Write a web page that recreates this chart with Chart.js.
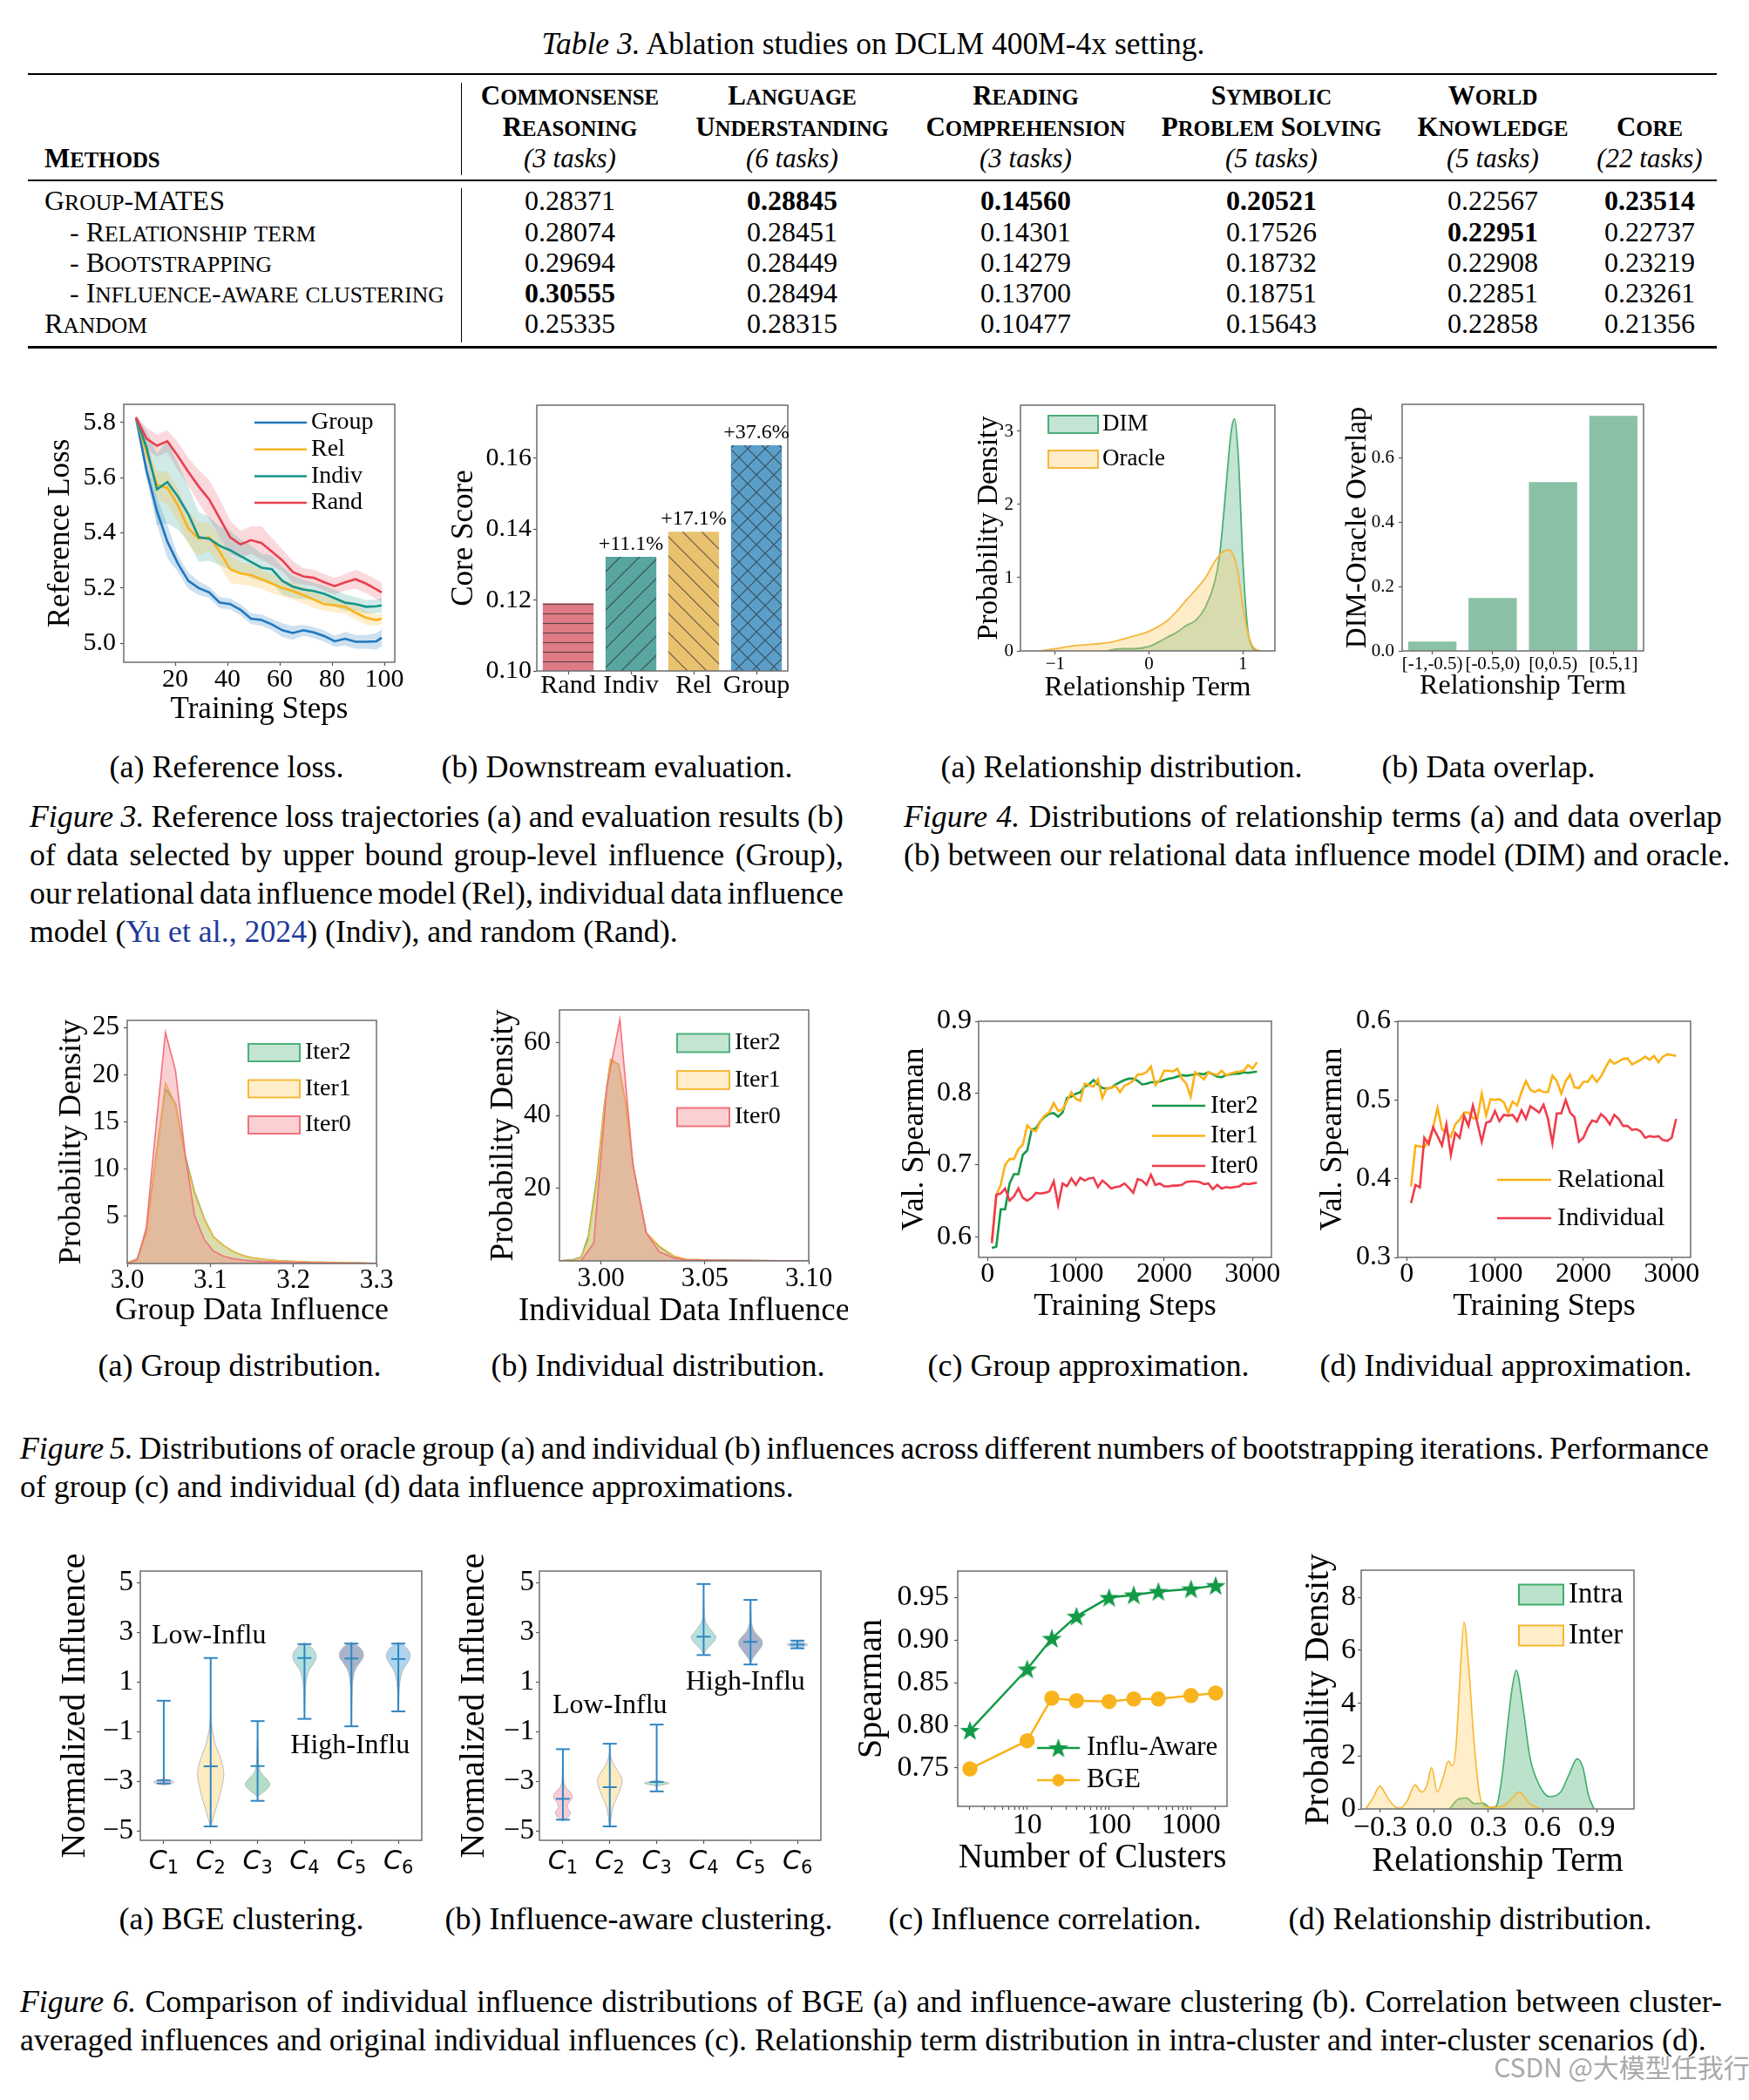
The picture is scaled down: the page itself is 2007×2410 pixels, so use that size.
<!DOCTYPE html>
<html>
<head>
<meta charset="utf-8">
<title>Group-MATES ablations</title>
<script src="https://cdn.jsdelivr.net/npm/chart.js@4.4.1/dist/chart.umd.min.js"></script>
<style>
  html, body { margin: 0; padding: 0; background: #fff; }
  body { position: relative; width: 2007px; height: 2410px; overflow: hidden;
         font-family: 'Liberation Serif', 'Times New Roman', serif; color: #000; }
  .t { position: absolute; white-space: nowrap; line-height: 1; }
  .rule { position: absolute; background: #000; }
  .cap { position: absolute; white-space: nowrap; font-size: 35.8px; line-height: 44px; }
  .cite { color: #1f3b9a; }
</style>
</head>
<body>
<script>
// ---------- Table 3 ----------
const tableGroups = [
  ['Commonsense', 'Reasoning', '(3 tasks)'],
  ['Language', 'Understanding', '(6 tasks)'],
  ['Reading', 'Comprehension', '(3 tasks)'],
  ['Symbolic', 'Problem Solving', '(5 tasks)'],
  ['World', 'Knowledge', '(5 tasks)'],
  ['', 'Core', '(22 tasks)']
];
const tableMethods = ['Group-MATES', '- Relationship term', '- Bootstrapping', '- Influence-aware clustering', 'Random'];
const tableValues = [
  [0.28371, 0.28845, 0.14560, 0.20521, 0.22567, 0.23514],
  [0.28074, 0.28451, 0.14301, 0.17526, 0.22951, 0.22737],
  [0.29694, 0.28449, 0.14279, 0.18732, 0.22908, 0.23219],
  [0.30555, 0.28494, 0.13700, 0.18751, 0.22851, 0.23261],
  [0.25335, 0.28315, 0.10477, 0.15643, 0.22858, 0.21356]
];

// ---------- Figure 3a: reference loss ----------
const steps3a = [5, 9, 13, 17, 21, 25, 29, 33, 37, 41, 45, 49, 53, 57, 61, 65, 69, 73, 77, 81, 85, 89, 93, 97, 99];
const lossGroup = [5.816, 5.626, 5.479, 5.368, 5.289, 5.226, 5.200, 5.184, 5.147, 5.142, 5.121, 5.089, 5.084, 5.068, 5.047, 5.037, 5.047, 5.039, 5.026, 5.007, 5.016, 5.005, 5.005, 5.007, 5.020];
const lossRel = [5.818, 5.69, 5.574, 5.563, 5.5, 5.416, 5.379, 5.384, 5.332, 5.268, 5.253, 5.247, 5.232, 5.216, 5.2, 5.189, 5.174, 5.158, 5.142, 5.137, 5.132, 5.111, 5.092, 5.084, 5.089];
const lossIndiv = [5.818, 5.71, 5.558, 5.584, 5.532, 5.468, 5.384, 5.379, 5.353, 5.337, 5.316, 5.295, 5.274, 5.268, 5.226, 5.205, 5.195, 5.189, 5.179, 5.163, 5.147, 5.142, 5.132, 5.134, 5.137];
const lossRand = [5.818, 5.742, 5.716, 5.732, 5.679, 5.621, 5.568, 5.521, 5.453, 5.384, 5.358, 5.374, 5.363, 5.332, 5.3, 5.258, 5.242, 5.237, 5.221, 5.207, 5.221, 5.232, 5.216, 5.195, 5.184];
// half-width of the shaded bands
const bandGroup = [0.005, 0.03, 0.05, 0.06, 0.03, 0.03, 0.025, 0.02, 0.02, 0.02, 0.02, 0.02, 0.02, 0.02, 0.025, 0.025, 0.02, 0.02, 0.02, 0.02, 0.025, 0.025, 0.025, 0.03, 0.03];
const bandRel = [0.005, 0.03, 0.05, 0.06, 0.06, 0.06, 0.06, 0.05, 0.05, 0.05, 0.04, 0.04, 0.035, 0.035, 0.03, 0.03, 0.03, 0.03, 0.025, 0.025, 0.025, 0.025, 0.025, 0.02, 0.02];
const bandIndiv = [0.005, 0.06, 0.13, 0.15, 0.12, 0.1, 0.09, 0.08, 0.07, 0.07, 0.06, 0.06, 0.05, 0.05, 0.05, 0.04, 0.035, 0.03, 0.03, 0.03, 0.03, 0.025, 0.025, 0.025, 0.025];
const bandRand = [0.005, 0.04, 0.04, 0.04, 0.05, 0.05, 0.06, 0.07, 0.07, 0.06, 0.05, 0.05, 0.06, 0.05, 0.04, 0.04, 0.03, 0.03, 0.03, 0.03, 0.03, 0.035, 0.035, 0.035, 0.035];
const ticks3aX = [20, 40, 60, 80, 100];
const ticks3aY = [5.0, 5.2, 5.4, 5.6, 5.8];

// ---------- Figure 3b: downstream evaluation ----------
const methods3b = ['Rand', 'Indiv', 'Rel', 'Group'];
const coreScore = [0.1191, 0.1322, 0.1393, 0.1637];
const gains3b = ['', '+11.1%', '+17.1%', '+37.6%'];
const ticks3bY = [0.10, 0.12, 0.14, 0.16];

// ---------- Figure 4a: relationship distribution ----------
const dimX = [-0.45, -0.3, -0.15, 0, 0.1, 0.2, 0.3, 0.4, 0.5, 0.6, 0.7, 0.75, 0.8, 0.85, 0.88, 0.91, 0.95, 1.0, 1.05, 1.1, 1.15];
const dimY = [0, 0.03, 0.03, 0.06, 0.12, 0.19, 0.26, 0.35, 0.42, 0.6, 0.95, 1.3, 1.95, 2.7, 3.05, 3.17, 2.65, 1.2, 0.3, 0.05, 0];
const oracleX = [-1.15, -1.0, -0.8, -0.6, -0.4, -0.2, 0, 0.2, 0.3, 0.4, 0.5, 0.6, 0.7, 0.8, 0.85, 0.9, 0.95, 1.0, 1.05, 1.1, 1.15, 1.2];
const oracleY = [0, 0.03, 0.07, 0.09, 0.12, 0.19, 0.27, 0.42, 0.55, 0.7, 0.84, 1.0, 1.22, 1.37, 1.38, 1.3, 1.05, 0.6, 0.25, 0.07, 0.015, 0];
const ticks4aX = [-1, 0, 1];
const ticks4aY = [0, 1, 2, 3];

// ---------- Figure 4b: data overlap ----------
const overlapBins = ['[-1,-0.5)', '[-0.5,0)', '[0,0.5)', '[0.5,1]'];
const overlapValues = [0.029, 0.165, 0.526, 0.732];
const ticks4bY = [0.0, 0.2, 0.4, 0.6];

// ---------- Figure 5a: group influence distribution ----------
const groupInfX = [3.0, 3.012, 3.023, 3.035, 3.046, 3.058, 3.07, 3.081, 3.093, 3.104, 3.116, 3.127, 3.139, 3.15, 3.162, 3.185, 3.22, 3.26, 3.3];
const groupIter2 = [0.06, 0.5, 3.3, 11.6, 18.5, 17.0, 11.4, 7.6, 4.7, 2.8, 1.9, 1.3, 0.85, 0.62, 0.46, 0.28, 0.15, 0.09, 0.03];
const groupIter1 = [0.06, 0.46, 3.1, 11.4, 19.1, 16.9, 11.1, 7.4, 4.6, 2.8, 1.9, 1.3, 0.83, 0.62, 0.46, 0.28, 0.15, 0.09, 0.03];
const groupIter0 = [0, 0.37, 3.8, 14.8, 24.5, 20.5, 11.4, 5.1, 2.5, 1.3, 0.77, 0.52, 0.37, 0.28, 0.2, 0.15, 0.09, 0.05, 0.02];
const ticks5aX = [3.0, 3.1, 3.2, 3.3];
const ticks5aY = [5, 10, 15, 20, 25];

// ---------- Figure 5b: individual influence distribution ----------
const indivInfX = [2.98, 2.987, 2.9904, 2.9938, 2.998, 3.0014, 3.0046, 3.0084, 3.0119, 3.0154, 3.0218, 3.028, 3.035, 3.041, 3.058, 3.1];
const indivIter2 = [0, 0.4, 1.0, 6.5, 23, 42, 55.1, 54, 43.2, 26.4, 7.7, 3.8, 1.2, 0.4, 0.16, 0];
const indivIter1 = [0, 0.3, 0.8, 5.7, 21.7, 41.6, 55.5, 54, 43.2, 26.4, 7.7, 4.1, 1.4, 0.4, 0.16, 0];
const indivIter0X = [2.98, 2.9904, 2.9965, 3.0028, 3.0091, 3.0154, 3.0218, 3.028, 3.035, 3.041, 3.058, 3.1];
const indivIter0 = [0, 0, 4.9, 47.8, 66.4, 26.3, 7.7, 2.5, 0.8, 0.3, 0.16, 0];
const ticks5bX = [3.00, 3.05, 3.10];
const ticks5bY = [20, 40, 60];

// ---------- Figure 5c / 5d: approximation curves ----------
const trainSteps = [50, 100, 150, 200, 250, 300, 350, 400, 450, 500, 550, 600, 650, 700, 750, 800, 850, 900, 950, 1000,
  1050, 1100, 1150, 1200, 1250, 1300, 1350, 1400, 1450, 1500, 1550, 1600, 1650, 1700, 1750, 1800, 1850, 1900, 1950, 2000,
  2050, 2100, 2150, 2200, 2250, 2300, 2350, 2400, 2450, 2500, 2550, 2600, 2650, 2700, 2750, 2800, 2850, 2900, 2950, 3000, 3050];
const spearIter2 = [0.584, 0.586, 0.638, 0.638, 0.674, 0.687, 0.687, 0.714, 0.72, 0.749, 0.751, 0.761, 0.767, 0.771, 0.772, 0.767, 0.773, 0.793, 0.795, 0.799,
  0.801, 0.809, 0.812, 0.818, 0.812, 0.807, 0.806, 0.807, 0.812, 0.815, 0.818, 0.82, 0.82, 0.817, 0.812, 0.813, 0.815, 0.815, 0.816, 0.818,
  0.82, 0.821, 0.823, 0.825, 0.824, 0.825, 0.826, 0.827, 0.826, 0.829, 0.826, 0.823, 0.822, 0.825, 0.826, 0.827, 0.827, 0.829, 0.828, 0.829, 0.83];
const spearIter1 = [0.595, 0.658, 0.672, 0.7, 0.708, 0.708, 0.722, 0.728, 0.755, 0.749, 0.747, 0.761, 0.769, 0.773, 0.786, 0.775, 0.777, 0.789, 0.801, 0.792,
  0.789, 0.813, 0.811, 0.809, 0.819, 0.793, 0.807, 0.807, 0.81, 0.801, 0.81, 0.813, 0.817, 0.826, 0.826, 0.829, 0.837, 0.811, 0.818, 0.831,
  0.831, 0.83, 0.834, 0.82, 0.813, 0.795, 0.829, 0.824, 0.819, 0.829, 0.827, 0.825, 0.831, 0.825, 0.827, 0.829, 0.83, 0.831, 0.839, 0.834, 0.843];
const spearIter0 = [0.591, 0.658, 0.66, 0.667, 0.65, 0.656, 0.667, 0.654, 0.65, 0.654, 0.661, 0.66, 0.661, 0.663, 0.677, 0.644, 0.674, 0.67, 0.681, 0.672,
  0.682, 0.678, 0.681, 0.682, 0.669, 0.678, 0.673, 0.667, 0.669, 0.67, 0.674, 0.668, 0.661, 0.68, 0.678, 0.672, 0.686, 0.672, 0.674, 0.67,
  0.67, 0.671, 0.671, 0.672, 0.676, 0.677, 0.677, 0.676, 0.673, 0.674, 0.666, 0.672, 0.667, 0.669, 0.668, 0.669, 0.67, 0.674, 0.673, 0.674, 0.675];
const spearRelational = [0.39, 0.442, 0.441, 0.44, 0.449, 0.465, 0.49, 0.463, 0.458, 0.453, 0.469, 0.475, 0.484, 0.484, 0.477, 0.476, 0.508, 0.48, 0.501, 0.5,
  0.501, 0.497, 0.484, 0.498, 0.493, 0.51, 0.524, 0.513, 0.51, 0.513, 0.51, 0.51, 0.531, 0.524, 0.508, 0.524, 0.532, 0.516, 0.515, 0.523,
  0.523, 0.531, 0.523, 0.53, 0.541, 0.551, 0.546, 0.549, 0.552, 0.553, 0.545, 0.548, 0.551, 0.555, 0.551, 0.556, 0.548, 0.555, 0.558, 0.557, 0.556];
const spearIndividual = [0.369, 0.392, 0.389, 0.452, 0.444, 0.465, 0.454, 0.442, 0.469, 0.43, 0.458, 0.452, 0.48, 0.467, 0.493, 0.471, 0.447, 0.471, 0.473, 0.486,
  0.473, 0.481, 0.48, 0.481, 0.473, 0.487, 0.476, 0.492, 0.488, 0.484, 0.494, 0.476, 0.445, 0.483, 0.483, 0.5, 0.484, 0.478, 0.447, 0.452,
  0.465, 0.474, 0.472, 0.482, 0.477, 0.469, 0.481, 0.476, 0.467, 0.467, 0.462, 0.463, 0.46, 0.452, 0.454, 0.453, 0.454, 0.449, 0.448, 0.452, 0.476];
const ticksStepsX = [0, 1000, 2000, 3000];
const ticks5cY = [0.6, 0.7, 0.8, 0.9];
const ticks5dY = [0.3, 0.4, 0.5, 0.6];

// ---------- Figure 6a / 6b: violins, [min, mean, max] and [value, half-width] profiles ----------
const clusterIds = [1, 2, 3, 4, 5, 6];
const bgeStats = [[-3.07, -2.95, 0.26], [-4.8, -2.38, 1.98], [-3.77, -2.37, -0.56], [-0.47, 1.98, 2.54], [-0.77, 1.96, 2.56], [-0.17, 1.94, 2.56]];
const bgeProfiles = [
  [[-3.14, 0], [-3.08, 0.14], [-3.02, 0.22], [-2.96, 0.16], [-2.9, 0.05], [-2.85, 0]],
  [[-4.8, 0], [-4.5, 0.05], [-4.1, 0.11], [-3.6, 0.19], [-3.1, 0.25], [-2.7, 0.28], [-2.3, 0.25], [-1.9, 0.18], [-1.5, 0.1], [-1.1, 0.05], [-0.7, 0.02], [-0.3, 0]],
  [[-3.6, 0], [-3.45, 0.1], [-3.3, 0.2], [-3.12, 0.26], [-2.95, 0.22], [-2.75, 0.12], [-2.55, 0.05], [-2.2, 0.02], [-1.6, 0.01], [-1.2, 0]],
  [[-0.3, 0], [0.3, 0.01], [0.8, 0.02], [1.2, 0.05], [1.5, 0.1], [1.75, 0.19], [2.0, 0.25], [2.2, 0.23], [2.4, 0.15], [2.54, 0.04], [2.6, 0]],
  [[-0.6, 0], [0.2, 0.01], [0.8, 0.02], [1.2, 0.04], [1.5, 0.08], [1.8, 0.18], [2.0, 0.25], [2.2, 0.25], [2.4, 0.18], [2.56, 0.05], [2.62, 0]],
  [[-0.1, 0], [0.3, 0.01], [0.8, 0.02], [1.2, 0.05], [1.5, 0.1], [1.8, 0.2], [2.0, 0.25], [2.2, 0.24], [2.4, 0.17], [2.56, 0.05], [2.62, 0]]
];
const iacStats = [[-4.53, -3.69, -1.69], [-4.8, -3.22, -1.47], [-3.39, -3.01, -0.7], [2.1, 2.84, 4.96], [1.72, 2.63, 4.32], [2.37, 2.52, 2.68]];
const iacProfiles = [
  [[-4.6, 0], [-4.45, 0.1], [-4.25, 0.16], [-4.05, 0.1], [-3.85, 0.12], [-3.65, 0.2], [-3.45, 0.17], [-3.25, 0.07], [-3.0, 0.02], [-2.5, 0.01], [-2.0, 0]],
  [[-4.85, 0], [-4.4, 0.03], [-4.0, 0.07], [-3.6, 0.16], [-3.2, 0.24], [-2.9, 0.26], [-2.6, 0.18], [-2.3, 0.08], [-2.0, 0.02], [-1.7, 0]],
  [[-3.17, 0], [-3.12, 0.15], [-3.06, 0.26], [-3.0, 0.15], [-2.95, 0]],
  [[2.1, 0], [2.3, 0.05], [2.5, 0.15], [2.7, 0.24], [2.85, 0.26], [3.0, 0.2], [3.2, 0.12], [3.4, 0.05], [3.6, 0.02], [4.0, 0.01], [4.5, 0]],
  [[1.72, 0], [1.9, 0.03], [2.1, 0.1], [2.3, 0.18], [2.5, 0.25], [2.7, 0.24], [2.9, 0.15], [3.1, 0.07], [3.4, 0.02], [3.8, 0.01], [4.2, 0]],
  [[2.4, 0], [2.45, 0.14], [2.52, 0.22], [2.59, 0.14], [2.64, 0]]
];
const notesBGE = [['Low-Influ', 0.74, 2.85], ['High-Influ', 3.7, -1.54]];
const notesIAC = [['Low-Influ', 0.78, 0.04], ['High-Influ', 3.62, 0.99]];
const ticksViolinY = [-5, -3, -1, 1, 3, 5];

// ---------- Figure 6c: influence correlation ----------
const clusterCounts = [2, 10, 20, 40, 100, 200, 400, 1000, 2000];
const corrInfluAware = [0.794, 0.866, 0.902, 0.928, 0.95, 0.953, 0.957, 0.96, 0.964];
const corrBGE = [0.749, 0.782, 0.832, 0.829, 0.828, 0.831, 0.831, 0.835, 0.838];
const ticks6cX = [10, 100, 1000];
const ticks6cY = [0.75, 0.80, 0.85, 0.90, 0.95];

// ---------- Figure 6d: intra / inter relationship terms ----------
const intraX = [0.085, 0.13, 0.177, 0.223, 0.27, 0.315, 0.346, 0.377, 0.408, 0.43, 0.454, 0.49, 0.53, 0.577, 0.638, 0.7, 0.746, 0.792, 0.823, 0.854, 0.885];
const intraY = [0, 0.36, 0.42, 0.2, 0.22, 0.03, 0.14, 1.3, 3.27, 4.5, 5.25, 3.93, 1.96, 0.97, 0.47, 0.64, 1.3, 1.9, 1.57, 0.53, 0];
const interX = [-0.38, -0.34, -0.3, -0.26, -0.22, -0.19, -0.15, -0.106, -0.07, -0.04, -0.014, 0.017, 0.05, 0.078, 0.1, 0.12, 0.14, 0.165, 0.19, 0.22, 0.25, 0.28, 0.33, 0.39, 0.43, 0.47, 0.53, 0.59];
const interY = [0, 0.4, 0.86, 0.45, 0.1, 0.03, 0.3, 0.91, 0.64, 0.9, 1.57, 0.64, 1.2, 1.81, 1.63, 2.3, 4.6, 7.07, 5.5, 2.6, 0.6, 0.1, 0.07, 0.14, 0.4, 0.64, 0.2, 0];
const ticks6dX = [-0.3, 0.0, 0.3, 0.6, 0.9];
const ticks6dY = [0, 2, 4, 6, 8];

// ---------- page text helpers ----------
const SERIF = "'Liberation Serif', 'Times New Roman', serif";

function sc(s) {
  return s.replace(/[a-z]+/g, m => '<span style="font-size:0.8em">' + m.toUpperCase() + '</span>');
}

function text(html, x, y, css, anchor) {
  const d = document.createElement('div');
  d.className = 't';
  d.innerHTML = html;
  d.style.left = x + 'px';
  d.style.top = y + 'px';
  d.style.transform = anchor === 'left' ? 'translate(0,-50%)' : 'translate(-50%,-50%)';
  d.style.cssText += css || '';
  document.body.appendChild(d);
}

function rule(x, y, w, h) {
  const d = document.createElement('div');
  d.className = 'rule';
  d.style.cssText = 'left:' + x + 'px;top:' + y + 'px;width:' + w + 'px;height:' + h + 'px;';
  document.body.appendChild(d);
}

// justified caption lines: stretch word spacing so each line (except the last) fills the width
function caption(lines, left, top, width) {
  lines.forEach((html, i) => {
    const d = document.createElement('div');
    d.className = 'cap';
    d.innerHTML = html;
    d.style.left = left + 'px';
    d.style.top = (top + i * 44) + 'px';
    document.body.appendChild(d);
    if (i < lines.length - 1) {
      const natural = d.getBoundingClientRect().width;
      const spaces = (d.textContent.match(/ /g) || []).length;
      if (spaces) d.style.wordSpacing = ((width - natural) / spaces) + 'px';
    }
  });
}

// ---------- table ----------
text('<i>Table 3.</i> Ablation studies on DCLM 400M-4x setting.', 1002, 51, 'font-size:35.5px;');
rule(32, 83.5, 1938, 2.5);
rule(32, 206, 1938, 1.5);
rule(32, 397, 1938, 2.5);
rule(528.5, 95, 1.3, 106);
rule(528.5, 216, 1.3, 177);

const colX = [654, 909, 1177, 1459, 1713, 1893];
const headBold = 'font-size:31px;font-weight:bold;';
tableGroups.forEach((g, i) => {
  if (g[0]) text(sc(g[0]), colX[i], 109, headBold);
  text(sc(g[1]), colX[i], 145, headBold);
  text('<i>' + g[2] + '</i>', colX[i], 181, 'font-size:31px;');
});
text(sc('Methods'), 51, 181, headBold, 'left');

const rowY = [230, 266, 301, 336, 371];
const colBest = colX.map((_, j) => Math.max(...tableValues.map(r => r[j])));
tableMethods.forEach((name, i) => {
  const sub = name.startsWith('- ');
  text(sub ? '- ' + sc(name.slice(2)) : sc(name), sub ? 80 : 51, rowY[i], 'font-size:32px;', 'left');
  tableValues[i].forEach((v, j) => {
    const bold = v === colBest[j] ? 'font-weight:bold;' : '';
    text(v.toFixed(5), colX[j], rowY[i], 'font-size:32px;' + bold);
  });
});

// ---------- sub-captions and figure captions ----------
const subCaptions = [
  ['(a) Reference loss.', 260, 880], ['(b) Downstream evaluation.', 708, 880],
  ['(a) Relationship distribution.', 1287, 880], ['(b) Data overlap.', 1708, 880],
  ['(a) Group distribution.', 275, 1567], ['(b) Individual distribution.', 755, 1567],
  ['(c) Group approximation.', 1249, 1567], ['(d) Individual approximation.', 1728, 1567],
  ['(a) BGE clustering.', 277, 2202], ['(b) Influence-aware clustering.', 733, 2202],
  ['(c) Influence correlation.', 1199, 2202], ['(d) Relationship distribution.', 1687, 2202]
];
subCaptions.forEach(c => text(c[0], c[1], c[2], 'font-size:36px;'));

caption([
  '<i>Figure 3.</i> Reference loss trajectories (a) and evaluation results (b)',
  'of data selected by upper bound group-level influence (Group),',
  'our relational data influence model (Rel), individual data influence',
  'model (<span class="cite">Yu et al., 2024</span>) (Indiv), and random (Rand).'
], 34, 915, 934);
caption([
  '<i>Figure 4.</i> Distributions of relationship terms (a) and data overlap',
  '(b) between our relational data influence model (DIM) and oracle.'
], 1037, 915, 939);
caption([
  '<i>Figure 5.</i> Distributions of oracle group (a) and individual (b) influences across different numbers of bootstrapping iterations. Performance',
  'of group (c) and individual (d) data influence approximations.'
], 23, 1640, 1938);
caption([
  '<i>Figure 6.</i> Comparison of individual influence distributions of BGE (a) and influence-aware clustering (b). Correlation between cluster-',
  'averaged influences and original individual influences (c). Relationship term distribution in intra-cluster and inter-cluster scenarios (d).'
], 23, 2275, 1953);

text('CSDN @大模型任我行', 1861, 2371, "font-size:30px;font-family:'Noto Sans CJK SC',sans-serif;color:rgba(130,130,130,0.7);");

// ---------- chart helpers ----------
Chart.defaults.font.family = SERIF;
Chart.defaults.color = '#000';
Chart.defaults.elements.point.radius = 0;
Chart.defaults.elements.point.hoverRadius = 0;
Chart.defaults.elements.line.tension = 0;

const pts = (xs, ys) => xs.map((x, i) => ({ x: x, y: ys[i] }));
const neg = s => s.replace('-', '\u2212');

function tickGrid() {
  return { display: true, drawOnChartArea: false, drawTicks: true, tickLength: 4, tickColor: '#555', tickWidth: 1.2, offset: false };
}

function linAxis(o) {
  return {
    type: o.type || 'linear',
    min: o.min, max: o.max,
    afterBuildTicks: s => { s.ticks = o.values.map(v => ({ value: v })); },
    grid: tickGrid(),
    border: { display: false },
    ticks: { display: o.show !== false, font: { size: o.size }, color: '#000', padding: o.pad, autoSkip: false, maxRotation: 0, minRotation: 0, callback: o.fmt }
  };
}

function catAxis(o) {
  return {
    type: 'category', offset: true,
    grid: tickGrid(),
    border: { display: false },
    ticks: { font: { size: o.size }, color: '#000', padding: o.pad, autoSkip: false, maxRotation: 0, minRotation: 0 }
  };
}

function drawLegend(ctx, lg, ox, oy) {
  lg.items.forEach((it, i) => {
    const x = lg.x - ox, y = lg.y + i * lg.dy - oy;
    if (lg.kind === 'box') {
      ctx.fillStyle = it.fill;
      ctx.fillRect(x, y - lg.h / 2, lg.len, lg.h);
      ctx.strokeStyle = it.line; ctx.lineWidth = 2;
      ctx.strokeRect(x, y - lg.h / 2, lg.len, lg.h);
    } else {
      ctx.strokeStyle = it.line; ctx.lineWidth = 2.5;
      ctx.beginPath(); ctx.moveTo(x, y); ctx.lineTo(x + lg.len, y); ctx.stroke();
      if (it.marker) it.marker(ctx, x + lg.len / 2, y);
    }
    ctx.fillStyle = '#000';
    ctx.font = lg.size + 'px ' + SERIF;
    ctx.textAlign = 'left'; ctx.textBaseline = 'middle';
    ctx.fillText(it.label, lg.tx - ox, y);
  });
}

function decor(spec, ox, oy) {
  return {
    id: 'decor',
    afterDraw(chart) {
      const ctx = chart.ctx, a = chart.chartArea;
      ctx.save();
      ctx.strokeStyle = '#6e6e6e'; ctx.lineWidth = 1.5;
      ctx.strokeRect(a.left, a.top, a.right - a.left, a.bottom - a.top);
      ctx.fillStyle = '#000'; ctx.textAlign = 'center'; ctx.textBaseline = 'middle';
      if (spec.yTitle) {
        const t = spec.yTitle;
        ctx.save();
        ctx.translate(t.cx - ox, (t.cy || (spec.plot[1] + spec.plot[3]) / 2) - oy);
        ctx.rotate(-Math.PI / 2);
        ctx.font = t.size + 'px ' + SERIF;
        ctx.fillText(t.text, 0, 0);
        ctx.restore();
      }
      if (spec.xTitle) {
        const t = spec.xTitle;
        ctx.font = t.size + 'px ' + SERIF;
        ctx.fillText(t.text, (t.cx || (spec.plot[0] + spec.plot[2]) / 2) - ox, t.cy - oy);
      }
      if (spec.legend) drawLegend(ctx, spec.legend, ox, oy);
      if (spec.extra) spec.extra(chart, ctx, ox, oy);
      ctx.restore();
    }
  };
}

function makeChart(spec) {
  const [x0, y0, x1, y1] = spec.plot;
  const m = {
    t: 30, r: 45,
    l: spec.yTitle ? Math.ceil(x0 - spec.yTitle.cx + spec.yTitle.size) : 60,
    b: spec.xTitle ? Math.ceil(spec.xTitle.cy + spec.xTitle.size - y1) : 60
  };
  const ox = x0 - m.l, oy = y0 - m.t;
  const W = x1 - x0 + m.l + m.r, H = y1 - y0 + m.t + m.b;
  const cv = document.createElement('canvas');
  cv.width = W; cv.height = H;
  cv.style.cssText = 'position:absolute;left:' + ox + 'px;top:' + oy + 'px;width:' + W + 'px;height:' + H + 'px;';
  document.body.appendChild(cv);
  spec.scales.x.afterFit = s => { s.height = m.b; };
  spec.scales.y.afterFit = s => { s.width = m.l; };
  return new Chart(cv, {
    type: spec.type,
    data: spec.data,
    options: {
      responsive: false, animation: false, events: [],
      layout: { padding: { left: 0, top: m.t, right: m.r, bottom: 0 } },
      plugins: { legend: { display: false }, tooltip: { enabled: false } },
      scales: spec.scales
    },
    plugins: [decor(spec, ox, oy)]
  });
}

function hatch(color, kind, size) {
  const c = document.createElement('canvas');
  c.width = c.height = size;
  const g = c.getContext('2d');
  g.fillStyle = color; g.fillRect(0, 0, size, size);
  g.strokeStyle = 'rgba(45,45,45,0.7)'; g.lineWidth = 1.2;
  g.beginPath();
  if (kind === '-') { g.moveTo(0, size / 2); g.lineTo(size, size / 2); }
  if (kind === '/' || kind === 'x') {
    g.moveTo(-1, size + 1); g.lineTo(size + 1, -1);
    g.moveTo(-1, 1); g.lineTo(1, -1);
    g.moveTo(size - 1, size + 1); g.lineTo(size + 1, size - 1);
  }
  if (kind === '\\' || kind === 'x') {
    g.moveTo(-1, -1); g.lineTo(size + 1, size + 1);
    g.moveTo(-1, size - 1); g.lineTo(1, size + 1);
    g.moveTo(size - 1, -1); g.lineTo(size + 1, 1);
  }
  g.stroke();
  return g.createPattern(c, 'repeat');
}

function starMarker(color, size) {
  const c = document.createElement('canvas');
  c.width = c.height = size;
  const g = c.getContext('2d');
  g.fillStyle = color;
  g.beginPath();
  for (let i = 0; i < 10; i++) {
    const r = i % 2 ? size * 0.2 : size * 0.5;
    const ang = -Math.PI / 2 + i * Math.PI / 5;
    g.lineTo(size / 2 + r * Math.cos(ang), size / 2 + size * 0.04 + r * Math.sin(ang));
  }
  g.closePath(); g.fill();
  return c;
}

// ---------- Figure 3a ----------
const series3a = [
  { y: lossGroup, band: bandGroup, line: '#1f77bf', fill: 'rgba(31,119,191,0.22)' },
  { y: lossRel, band: bandRel, line: '#f9b31a', fill: 'rgba(249,179,26,0.22)' },
  { y: lossIndiv, band: bandIndiv, line: '#16948a', fill: 'rgba(22,148,138,0.2)' },
  { y: lossRand, band: bandRand, line: '#e8404f', fill: 'rgba(232,64,79,0.2)' }
];
const ds3a = [];
series3a.forEach(s => {
  ds3a.push({ data: pts(steps3a, s.y.map((v, i) => v + s.band[i])), showLine: true, borderWidth: 0, fill: '+1', backgroundColor: s.fill, order: 2 });
  ds3a.push({ data: pts(steps3a, s.y.map((v, i) => v - s.band[i])), showLine: true, borderWidth: 0, fill: false, order: 2 });
});
series3a.slice().reverse().forEach(s => {
  ds3a.push({ data: pts(steps3a, s.y), showLine: true, borderColor: s.line, borderWidth: 2.6, fill: false, order: 0 });
});
makeChart({
  plot: [142, 464, 453, 760], type: 'scatter',
  data: { datasets: ds3a },
  scales: {
    x: linAxis({ min: 0.3, max: 104, values: ticks3aX, size: 30, pad: -2, fmt: v => String(v) }),
    y: linAxis({ min: 4.931, max: 5.866, values: ticks3aY, size: 30, pad: 5, fmt: v => v.toFixed(1) })
  },
  yTitle: { text: 'Reference Loss', cx: 70, size: 35 },
  xTitle: { text: 'Training Steps', cy: 815, size: 35 },
  legend: { kind: 'line', x: 292, tx: 357, len: 60, y: 485, dy: 30.7, size: 28,
    items: [{ label: 'Group', line: '#1f77bf' }, { label: 'Rel', line: '#f9b31a' }, { label: 'Indiv', line: '#16948a' }, { label: 'Rand', line: '#e8404f' }] }
});

// ---------- Figure 3b ----------
const bars3b = [hatch('#e07b85', '-', 11), hatch('#58a69f', '/', 22), hatch('#e9c26f', '\\', 22), hatch('#5b9fc9', 'x', 20)];
makeChart({
  plot: [616, 465, 904, 770], type: 'bar',
  data: { labels: methods3b, datasets: [{ data: coreScore, backgroundColor: bars3b, borderWidth: 0, barPercentage: 0.81, categoryPercentage: 1.0 }] },
  scales: {
    x: catAxis({ size: 30, pad: -5 }),
    y: linAxis({ min: 0.10, max: 0.175, values: ticks3bY, size: 30, pad: 2, fmt: v => v.toFixed(2) })
  },
  yTitle: { text: 'Core Score', cx: 533, size: 35 },
  extra(chart, ctx) {
    const meta = chart.getDatasetMeta(0);
    ctx.font = '24px ' + SERIF; ctx.textAlign = 'center'; ctx.textBaseline = 'bottom'; ctx.fillStyle = '#000';
    meta.data.forEach((bar, i) => { if (gains3b[i]) ctx.fillText(gains3b[i], bar.x, bar.y - 2); });
  }
});

// ---------- Figure 4a ----------
makeChart({
  plot: [1171, 465, 1463, 747], type: 'scatter',
  data: { datasets: [
    { data: pts(oracleX, oracleY), showLine: true, fill: 'origin', borderColor: '#f6b73c', backgroundColor: 'rgba(252,198,90,0.33)', borderWidth: 1.8, cubicInterpolationMode: 'monotone', order: 0 },
    { data: pts(dimX, dimY), showLine: true, fill: 'origin', borderColor: '#4dae79', backgroundColor: 'rgba(92,184,138,0.36)', borderWidth: 1.8, cubicInterpolationMode: 'monotone', order: 1 }
  ] },
  scales: {
    x: linAxis({ min: -1.37, max: 1.34, values: ticks4aX, size: 21, pad: -1.6, fmt: v => neg(String(v)) }),
    y: linAxis({ min: 0, max: 3.357, values: ticks4aY, size: 21, pad: 4, fmt: v => String(v) })
  },
  yTitle: { text: 'Probability Density', cx: 1135, size: 33 },
  xTitle: { text: 'Relationship Term', cy: 790, size: 32 },
  legend: { kind: 'box', x: 1203, tx: 1265, len: 57, h: 20, y: 487, dy: 40, size: 27,
    items: [{ label: 'DIM', line: '#4dae79', fill: 'rgba(92,184,138,0.36)' }, { label: 'Oracle', line: '#f6b73c', fill: 'rgba(252,198,90,0.33)' }] }
});

// ---------- Figure 4b ----------
makeChart({
  plot: [1609, 464, 1886, 747], type: 'bar',
  data: { labels: overlapBins, datasets: [{ data: overlapValues, backgroundColor: '#8bc1a6', borderWidth: 0, barPercentage: 0.8, categoryPercentage: 1.0 }] },
  scales: {
    x: catAxis({ size: 21, pad: -1.6 }),
    y: linAxis({ min: 0, max: 0.768, values: ticks4bY, size: 21, pad: 5, fmt: v => v.toFixed(1) })
  },
  yTitle: { text: 'DIM-Oracle Overlap', cx: 1558, size: 33 },
  xTitle: { text: 'Relationship Term', cy: 788, size: 32 }
});

// ---------- Figure 5a / 5b ----------
const iterStyle = [
  { label: 'Iter2', line: '#4daf7c', fill: 'rgba(90,180,130,0.35)' },
  { label: 'Iter1', line: '#f6b93b', fill: 'rgba(255,205,100,0.35)' },
  { label: 'Iter0', line: '#f0727b', fill: 'rgba(240,120,130,0.35)' }
];
function kdeSet(data, st, order) {
  return { data: data, showLine: true, fill: 'origin', borderColor: st.line, backgroundColor: st.fill, borderWidth: 1.6, order: order };
}
makeChart({
  plot: [146, 1171, 432, 1450], type: 'scatter',
  data: { datasets: [
    kdeSet(pts(groupInfX, groupIter0), iterStyle[2], 0),
    kdeSet(pts(groupInfX, groupIter1), iterStyle[1], 1),
    kdeSet(pts(groupInfX, groupIter2), iterStyle[0], 2)
  ] },
  scales: {
    x: linAxis({ min: 3.0, max: 3.3, values: ticks5aX, size: 31, pad: -2.6, fmt: v => v.toFixed(1) }),
    y: linAxis({ min: 0, max: 25.77, values: ticks5aY, size: 31, pad: 5, fmt: v => String(v) })
  },
  yTitle: { text: 'Probability Density', cx: 83, size: 36 },
  xTitle: { text: 'Group Data Influence', cy: 1505, size: 36 },
  legend: { kind: 'box', x: 285, tx: 350, len: 59, h: 20, y: 1208, dy: 41.5, size: 28, items: iterStyle }
});
makeChart({
  plot: [642, 1159, 928, 1447], type: 'scatter',
  data: { datasets: [
    kdeSet(pts(indivIter0X, indivIter0), iterStyle[2], 0),
    kdeSet(pts(indivInfX, indivIter1), iterStyle[1], 1),
    kdeSet(pts(indivInfX, indivIter2), iterStyle[0], 2)
  ] },
  scales: {
    x: linAxis({ min: 2.98, max: 3.10, values: ticks5bX, size: 31, pad: -1.6, fmt: v => v.toFixed(2) }),
    y: linAxis({ min: 0, max: 69, values: ticks5bY, size: 31, pad: 6, fmt: v => String(v) })
  },
  yTitle: { text: 'Probability Density', cx: 578, size: 37 },
  xTitle: { text: 'Individual Data Influence', cy: 1505, size: 37 },
  legend: { kind: 'box', x: 777, tx: 843, len: 60, h: 21, y: 1197, dy: 42.5, size: 28, items: iterStyle }
});

// ---------- Figure 5c / 5d ----------
function curve(ys, color, order) {
  return { data: pts(trainSteps, ys), showLine: true, fill: false, borderColor: color, borderWidth: 2.6, order: order };
}
makeChart({
  plot: [1123, 1172, 1459, 1443], type: 'scatter',
  data: { datasets: [curve(spearIter0, '#f03c4c', 0), curve(spearIter1, '#fbb217', 1), curve(spearIter2, '#159947', 2)] },
  scales: {
    x: linAxis({ min: -100, max: 3214, values: ticksStepsX, size: 32, pad: -4, fmt: v => String(v) }),
    y: linAxis({ min: 0.571, max: 0.9, values: ticks5cY, size: 32, pad: 4, fmt: v => v.toFixed(1) })
  },
  yTitle: { text: 'Val. Spearman', cx: 1050, size: 36 },
  xTitle: { text: 'Training Steps', cy: 1500, size: 36 },
  legend: { kind: 'line', x: 1322, tx: 1389, len: 61, y: 1269, dy: 34.5, size: 29,
    items: [{ label: 'Iter2', line: '#159947' }, { label: 'Iter1', line: '#fbb217' }, { label: 'Iter0', line: '#f03c4c' }] }
});
makeChart({
  plot: [1604, 1172, 1940, 1443], type: 'scatter',
  data: { datasets: [curve(spearIndividual, '#f03c4c', 0), curve(spearRelational, '#fbb217', 1)] },
  scales: {
    x: linAxis({ min: -100, max: 3214, values: ticksStepsX, size: 32, pad: -4, fmt: v => String(v) }),
    y: linAxis({ min: 0.3, max: 0.6, values: ticks5dY, size: 32, pad: 4, fmt: v => v.toFixed(1) })
  },
  yTitle: { text: 'Val. Spearman', cx: 1530, size: 36 },
  xTitle: { text: 'Training Steps', cy: 1500, size: 36 },
  legend: { kind: 'line', x: 1718, tx: 1787, len: 62, y: 1354, dy: 44, size: 30,
    items: [{ label: 'Relational', line: '#fbb217' }, { label: 'Individual', line: '#f03c4c' }] }
});

// ---------- Figure 6a / 6b: violins ----------
const WHISKER = '#2f86c4';
const violinFill = ['rgba(247,168,184,0.6)', 'rgba(255,221,150,0.6)', 'rgba(130,200,160,0.6)', 'rgba(130,205,200,0.6)', 'rgba(110,130,170,0.6)', 'rgba(120,185,225,0.6)'];

function violinSets(stats, profiles) {
  const ds = [];
  profiles.forEach((prof, i) => {
    const c = clusterIds[i];
    const right = prof.map(p => ({ x: c + p[1], y: p[0] }));
    const left = prof.slice().reverse().map(p => ({ x: c - p[1], y: p[0] }));
    ds.push({ data: right.concat(left), showLine: true, fill: 'shape', backgroundColor: violinFill[i], borderColor: '#b9b9b9', borderWidth: 1, tension: 0.3, order: 2 });
  });
  const whisk = [];
  stats.forEach((s, i) => { whisk.push({ x: clusterIds[i], y: s[0] }, { x: clusterIds[i], y: s[2] }, { x: clusterIds[i], y: null }); });
  ds.push({ data: whisk, showLine: true, fill: false, borderColor: WHISKER, borderWidth: 2, spanGaps: false, order: 1 });
  const marks = [];
  stats.forEach((s, i) => s.forEach(v => marks.push({ x: clusterIds[i], y: v })));
  ds.push({ data: marks, showLine: false, pointStyle: 'line', pointRadius: 8, pointBorderColor: WHISKER, pointBorderWidth: 2, order: 0 });
  return ds;
}

function violinExtra(notes) {
  return function (chart, ctx, ox, oy) {
    const xs = chart.scales.x, ys = chart.scales.y;
    ctx.fillStyle = '#000'; ctx.textBaseline = 'alphabetic'; ctx.textAlign = 'left';
    clusterIds.forEach(id => {
      ctx.font = "italic 30px 'DejaVu Sans'";
      const w1 = ctx.measureText('C').width;
      ctx.font = "21px 'DejaVu Sans'";
      const w2 = ctx.measureText(String(id)).width;
      const x = xs.getPixelForValue(id) - (w1 + w2) / 2;
      ctx.font = "italic 30px 'DejaVu Sans'";
      ctx.fillText('C', x, 2145 - oy);
      ctx.font = "21px 'DejaVu Sans'";
      ctx.fillText(String(id), x + w1, 2150 - oy);
    });
    ctx.font = '32px ' + SERIF; ctx.textBaseline = 'middle';
    notes.forEach(n => ctx.fillText(n[0], xs.getPixelForValue(n[1]), ys.getPixelForValue(n[2])));
  };
}

[[bgeStats, bgeProfiles, notesBGE, [161, 1803, 484, 2112], 86, 4],
 [iacStats, iacProfiles, notesIAC, [619, 1803, 942, 2112], 544, 2]].forEach(cfg => {
  makeChart({
    plot: cfg[3], type: 'scatter',
    data: { datasets: violinSets(cfg[0], cfg[1]) },
    scales: {
      x: linAxis({ min: 0.5, max: 6.5, values: clusterIds, size: 30, pad: 0, show: false, fmt: v => String(v) }),
      y: linAxis({ min: -5.36, max: 5.48, values: ticksViolinY, size: 33, pad: cfg[5], fmt: v => neg(String(v)) })
    },
    yTitle: { text: 'Normalized Influence', cx: cfg[4], size: 40 },
    extra: violinExtra(cfg[2])
  });
});

// ---------- Figure 6c ----------
const starGreen = starMarker('#129a47', 24);
const minorTicks6c = [];
[1, 10, 100, 1000].forEach(d => [2, 3, 4, 5, 6, 7, 8, 9, 10].forEach(k => { if (d * k > 1.42 && d * k < 2750) minorTicks6c.push(d * k); }));
makeChart({
  plot: [1099, 1803, 1408, 2073], type: 'scatter',
  data: { datasets: [
    { data: pts(clusterCounts, corrInfluAware), showLine: true, borderColor: '#129a47', borderWidth: 2.5, pointStyle: starGreen, pointRadius: 10, order: 0 },
    { data: pts(clusterCounts, corrBGE), showLine: true, borderColor: '#f8b31d', borderWidth: 2.5, pointStyle: 'circle', pointRadius: 7.5,
      pointBackgroundColor: '#f8b31d', pointBorderColor: '#f8b31d', order: 1 }
  ] },
  scales: {
    x: linAxis({ type: 'logarithmic', min: 1.42, max: 2750, values: minorTicks6c, size: 34, pad: -2.4,
      fmt: v => ticks6cX.includes(v) ? String(v) : '' }),
    y: linAxis({ min: 0.705, max: 0.981, values: ticks6cY, size: 34, pad: 6, fmt: v => v.toFixed(2) })
  },
  yTitle: { text: 'Spearman', cx: 1000, size: 40 },
  xTitle: { text: 'Number of Clusters', cy: 2133, size: 39 },
  legend: { kind: 'line', x: 1190, tx: 1247, len: 49, y: 2006, dy: 37, size: 31, items: [
    { label: 'Influ-Aware', line: '#129a47', marker: (ctx, x, y) => ctx.drawImage(starGreen, x - 12, y - 12) },
    { label: 'BGE', line: '#f8b31d', marker: (ctx, x, y) => { ctx.fillStyle = '#f8b31d'; ctx.beginPath(); ctx.arc(x, y, 7, 0, Math.PI * 2); ctx.fill(); } }
  ] }
});

// ---------- Figure 6d ----------
makeChart({
  plot: [1562, 1802, 1875, 2076], type: 'scatter',
  data: { datasets: [
    { data: pts(interX, interY), showLine: true, fill: 'origin', borderColor: '#f7b731', backgroundColor: 'rgba(255,205,100,0.35)', borderWidth: 1.6, cubicInterpolationMode: 'monotone', order: 0 },
    { data: pts(intraX, intraY), showLine: true, fill: 'origin', borderColor: '#3fae6a', backgroundColor: 'rgba(80,180,120,0.38)', borderWidth: 1.6, cubicInterpolationMode: 'monotone', order: 1 }
  ] },
  scales: {
    x: linAxis({ min: -0.404, max: 1.106, values: ticks6dX, size: 34, pad: -2.4, fmt: v => neg(v.toFixed(1)) }),
    y: linAxis({ min: 0, max: 9.03, values: ticks6dY, size: 34, pad: 2, fmt: v => String(v) })
  },
  yTitle: { text: 'Probability Density', cx: 1513, size: 40 },
  xTitle: { text: 'Relationship Term', cy: 2137, size: 39 },
  legend: { kind: 'box', x: 1743, tx: 1800, len: 51, h: 23, y: 1830, dy: 47, size: 33,
    items: [{ label: 'Intra', line: '#3fae6a', fill: 'rgba(80,180,120,0.38)' }, { label: 'Inter', line: '#f7b731', fill: 'rgba(255,205,100,0.35)' }] }
});
</script>
</body>
</html>
